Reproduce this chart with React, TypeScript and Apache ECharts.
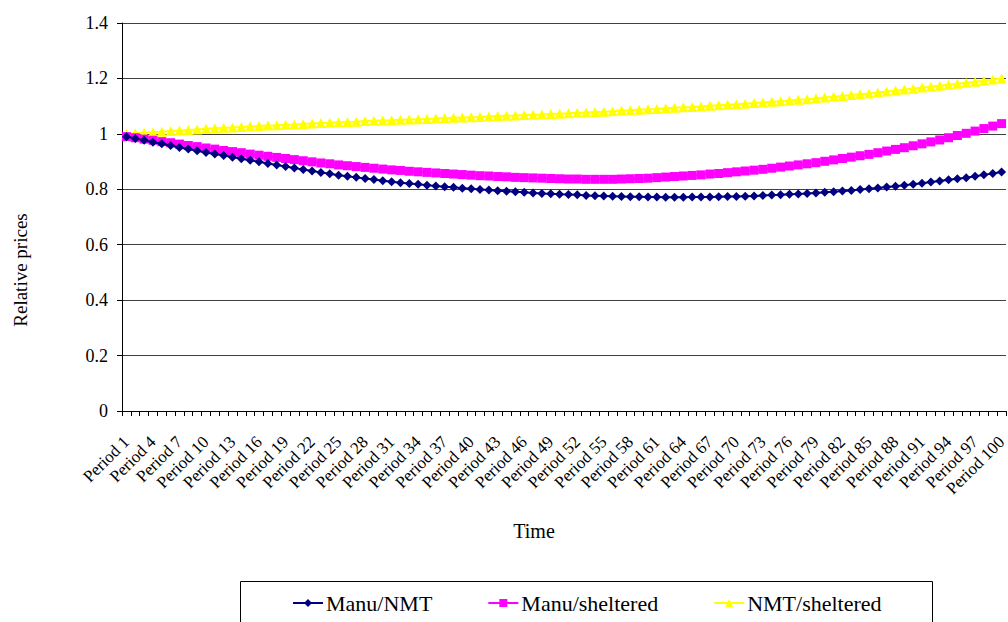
import React, { useEffect, useRef } from "react";
import * as echarts from "echarts";

const categories: string[] = Array.from({ length: 100 }, (_, i) => `Period ${i + 1}`);

const seriesNames = ["Manu/NMT", "Manu/sheltered", "NMT/sheltered"];

const manuNMT = [
  0.990, 0.983, 0.977, 0.970, 0.964, 0.958, 0.951, 0.945, 0.939, 0.933,
  0.927, 0.922, 0.916, 0.910, 0.905, 0.899, 0.893, 0.888, 0.882, 0.877,
  0.871, 0.866, 0.861, 0.856, 0.851, 0.847, 0.843, 0.839, 0.835, 0.831,
  0.827, 0.824, 0.821, 0.818, 0.815, 0.812, 0.809, 0.807, 0.804, 0.802,
  0.799, 0.797, 0.795, 0.793, 0.791, 0.789, 0.787, 0.785, 0.784, 0.782,
  0.781, 0.780, 0.778, 0.777, 0.776, 0.775, 0.774, 0.773, 0.773, 0.772,
  0.772, 0.771, 0.771, 0.771, 0.772, 0.772, 0.772, 0.773, 0.774, 0.774,
  0.775, 0.776, 0.778, 0.779, 0.780, 0.782, 0.783, 0.785, 0.787, 0.789,
  0.791, 0.794, 0.796, 0.799, 0.802, 0.805, 0.808, 0.811, 0.815, 0.818,
  0.822, 0.826, 0.830, 0.834, 0.838, 0.842, 0.847, 0.852, 0.857, 0.862,
];

const manuSheltered = [
  0.990, 0.986, 0.981, 0.977, 0.972, 0.968, 0.963, 0.958, 0.954, 0.949,
  0.945, 0.940, 0.936, 0.932, 0.927, 0.923, 0.919, 0.915, 0.911, 0.907,
  0.903, 0.899, 0.895, 0.892, 0.888, 0.885, 0.882, 0.879, 0.876, 0.873,
  0.870, 0.868, 0.865, 0.863, 0.861, 0.859, 0.857, 0.855, 0.853, 0.851,
  0.849, 0.848, 0.846, 0.845, 0.843, 0.842, 0.841, 0.840, 0.839, 0.838,
  0.837, 0.837, 0.836, 0.836, 0.836, 0.836, 0.837, 0.838, 0.839, 0.840,
  0.842, 0.844, 0.846, 0.848, 0.850, 0.852, 0.855, 0.857, 0.860, 0.863,
  0.866, 0.869, 0.872, 0.876, 0.880, 0.884, 0.888, 0.892, 0.896, 0.901,
  0.906, 0.911, 0.916, 0.921, 0.926, 0.932, 0.938, 0.944, 0.950, 0.957,
  0.964, 0.971, 0.978, 0.986, 0.994, 1.002, 1.010, 1.019, 1.028, 1.037,
];

const nmtSheltered = [
  1.000, 1.002, 1.004, 1.006, 1.008, 1.010, 1.012, 1.014, 1.016, 1.018,
  1.020, 1.022, 1.023, 1.025, 1.027, 1.028, 1.030, 1.031, 1.033, 1.034,
  1.036, 1.037, 1.039, 1.040, 1.042, 1.043, 1.044, 1.046, 1.047, 1.048,
  1.049, 1.051, 1.052, 1.053, 1.054, 1.055, 1.057, 1.058, 1.059, 1.060,
  1.061, 1.063, 1.064, 1.065, 1.066, 1.068, 1.069, 1.070, 1.072, 1.073,
  1.074, 1.076, 1.077, 1.079, 1.080, 1.082, 1.084, 1.085, 1.087, 1.089,
  1.090, 1.092, 1.094, 1.096, 1.097, 1.099, 1.101, 1.103, 1.105, 1.107,
  1.109, 1.111, 1.113, 1.116, 1.118, 1.120, 1.123, 1.125, 1.128, 1.131,
  1.134, 1.137, 1.140, 1.143, 1.146, 1.149, 1.153, 1.156, 1.160, 1.163,
  1.167, 1.170, 1.174, 1.177, 1.181, 1.184, 1.188, 1.192, 1.196, 1.200,
];

const yMin = 0;
const yMax = 1.4;
const yInterval = 0.2;

const FONT = "'Times New Roman', Times, 'Liberation Serif', 'DejaVu Serif', serif";

export default function App() {
  const ref = useRef<HTMLDivElement>(null);

  useEffect(() => {
    if (!ref.current) return;
    const chart = echarts.init(ref.current, null, { renderer: "svg" });
    chart.setOption({
      animation: false,
      backgroundColor: "#ffffff",
      textStyle: { fontFamily: FONT, color: "#000" },
      grid: {
        left: 122,
        top: 23,
        width: 884,
        height: 388,
        containLabel: false,
        outerBoundsMode: "none",
      },
      xAxis: {
        type: "category",
        data: categories,
        boundaryGap: true,
        axisLine: { show: true, lineStyle: { color: "#000", width: 1 } },
        axisTick: { show: true, interval: 0, length: 5, lineStyle: { color: "#000" } },
        axisLabel: {
          interval: 2,
          rotate: 45,
          margin: 28,
          fontFamily: FONT,
          fontSize: 17,
          color: "#000",
        },
        splitLine: { show: false },
      },
      yAxis: {
        type: "value",
        min: yMin,
        max: yMax,
        interval: yInterval,
        axisLine: { show: true, lineStyle: { color: "#000", width: 1 } },
        axisTick: { show: true, length: 5, lineStyle: { color: "#000" } },
        axisLabel: {
          margin: 14,
          fontFamily: FONT,
          fontSize: 18,
          color: "#000",
        },
        splitLine: { show: true, lineStyle: { color: "#404040", width: 1 } },
      },
      legend: {
        data: seriesNames,
        left: 292,
        top: 592,
        padding: 0,
        itemWidth: 30,
        itemHeight: 10,
        itemGap: 55,
        textStyle: { fontFamily: FONT, fontSize: 22, color: "#000", padding: [0, 0, 0, -2] },
      },
      graphic: [
        {
          type: "rect",
          shape: { x: 240.5, y: 581.5, width: 692, height: 80 },
          style: { fill: "none", stroke: "#000", lineWidth: 1 },
          z: 0,
          silent: true,
        },
        {
          type: "text",
          x: 20,
          y: 270,
          rotation: Math.PI / 2,
          style: {
            text: "Relative prices",
            fontFamily: FONT,
            fontSize: 19,
            fill: "#000",
            textAlign: "center",
            textVerticalAlign: "middle",
          },
        },
        {
          type: "text",
          x: 534,
          y: 531,
          style: {
            text: "Time",
            fontFamily: FONT,
            fontSize: 20,
            fill: "#000",
            textAlign: "center",
            textVerticalAlign: "middle",
          },
        },
      ],
      series: [
        {
          name: seriesNames[0],
          type: "line",
          data: manuNMT,
          symbol: "diamond",
          symbolSize: 9,
          showAllSymbol: true,
          lineStyle: { color: "#000080", width: 2 },
          itemStyle: { color: "#000080" },
          z: 3,
        },
        {
          name: seriesNames[1],
          type: "line",
          data: manuSheltered,
          symbol: "rect",
          symbolSize: 9,
          showAllSymbol: true,
          lineStyle: { color: "#FF00FF", width: 2 },
          itemStyle: { color: "#FF00FF" },
          z: 2,
        },
        {
          name: seriesNames[2],
          type: "line",
          data: nmtSheltered,
          symbol: "triangle",
          symbolSize: 10,
          showAllSymbol: true,
          lineStyle: { color: "#FFFF00", width: 2 },
          itemStyle: { color: "#FFFF00" },
          z: 1,
        },
      ],
    });
    return () => chart.dispose();
  }, []);

  return (
    <div
      ref={ref}
      style={{ position: "fixed", left: 0, top: 0, width: 1008, height: 622, background: "#fff" }}
    />
  );
}
